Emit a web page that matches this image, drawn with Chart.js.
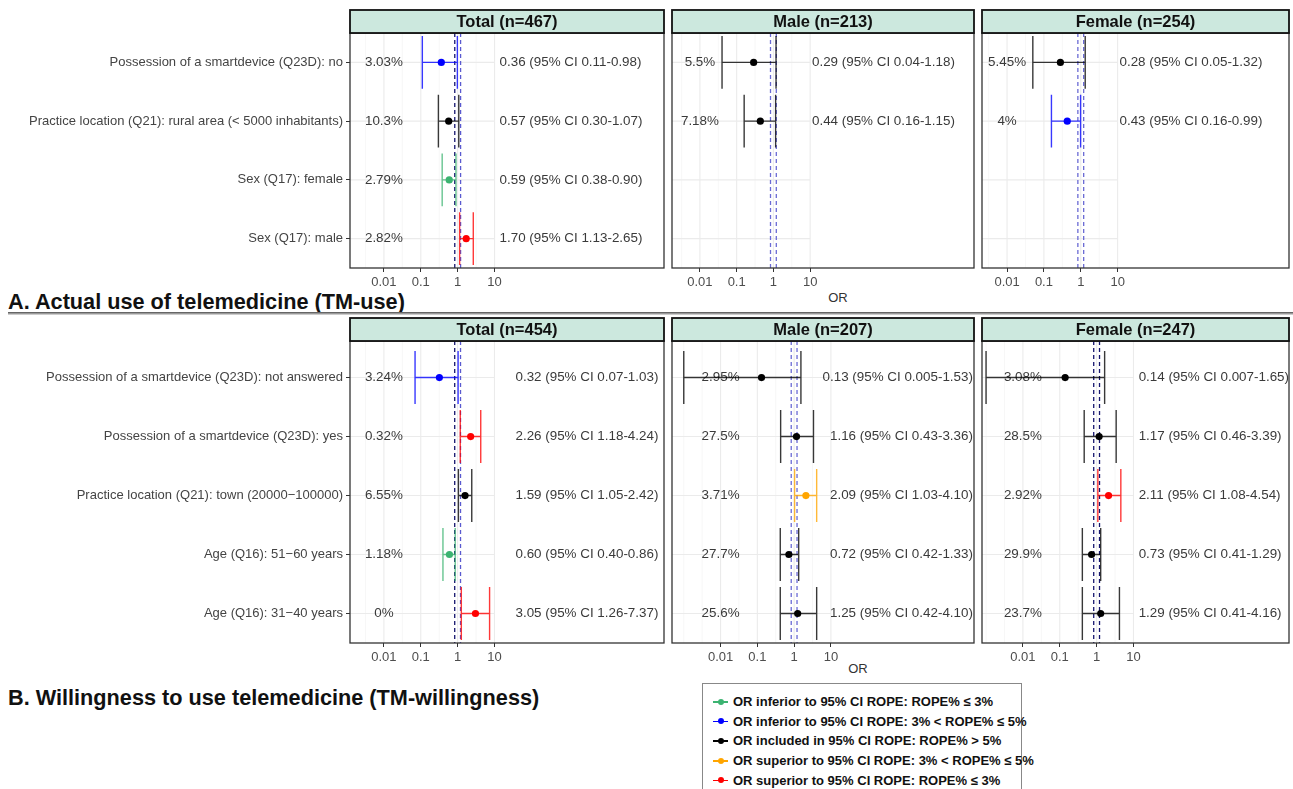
<!DOCTYPE html>
<html>
<head>
<meta charset="utf-8">
<script src="https://cdn.jsdelivr.net/npm/chart.js@4.4.1/dist/chart.umd.min.js"></script>
<style>
  body { margin: 0; background: #fff; width: 1293px; height: 789px; overflow: hidden; position: relative;
         font-family: "Liberation Sans", Arial, sans-serif; }
  canvas { position: absolute; }
  .sect { position: absolute; left: 8px; font-weight: bold; font-size: 21.7px; line-height: 24px; color: #111; white-space: nowrap; }
  .sep { position: absolute; left: 8px; right: 0; top: 312px; height: 1px; background: #999;
         border-top: 1px solid #666; border-bottom: 1px solid #ccc; }
  .orlab { position: absolute; font-size: 13px; color: #333; transform: translate(-50%, -50%); }
  #legend { position: absolute; left: 702px; top: 683px; width: 318px; height: 120px; border: 1px solid #888; background: #fff; }
  .lrow { position: absolute; left: 30px; font-weight: bold; font-size: 13px; line-height: 16px; color: #111; white-space: nowrap; }
  .sym { position: absolute; left: -20px; top: 7px; width: 15px; height: 1.5px; }
  .sym i { position: absolute; left: 4.5px; top: -2.5px; width: 6px; height: 6px; border-radius: 50%; }
</style>
</head>
<body>
<div class="sect" style="top:290px">A. Actual use of telemedicine (TM-use)</div>
<div class="sep"></div>
<div class="sect" style="top:686px">B. Willingness to use telemedicine (TM-willingness)</div>
<div class="orlab" style="left:838px;top:297px">OR</div>
<div class="orlab" style="left:858px;top:668px">OR</div>
<div id="legend"></div>

<script>
Chart.defaults.font.family = '"Liberation Sans", Arial, sans-serif';

// ---- data ----
const tickValues = [0.01, 0.1, 1, 10];
const tickLabels = ["0.01", "0.1", "1", "10"];
const ropeBounds = [0.834, 1.199];   // ROPE limits on the OR scale
const ciFloor = 0.001;               // CI lower ends below 0.01 are drawn at this floor

const classNames = [
  "OR inferior to 95% CI ROPE: ROPE% \u2264 3%",
  "OR inferior to 95% CI ROPE: 3% < ROPE% \u2264 5%",
  "OR included in 95% CI ROPE: ROPE% > 5%",
  "OR superior to 95% CI ROPE: 3% < ROPE% \u2264 5%",
  "OR superior to 95% CI ROPE: ROPE% \u2264 3%"
];
const classColors = ["#3CB371", "#0000FF", "#000000", "#FFA500", "#FF0000"];

// A. TM-use  (panels: Total, Male, Female)
const rowsA = [
  "Possession of a smartdevice (Q23D): no",
  "Practice location (Q21): rural area (< 5000 inhabitants)",
  "Sex (Q17): female",
  "Sex (Q17): male"
];
const titlesA = ["Total (n=467)", "Male (n=213)", "Female (n=254)"];
const orA   = [[0.36, 0.57, 0.59, 1.70], [0.29, 0.44, null, null], [0.28, 0.43, null, null]];
const loA   = [[0.11, 0.30, 0.38, 1.13], [0.04, 0.16, null, null], [0.05, 0.16, null, null]];
const hiA   = [[0.98, 1.07, 0.90, 2.65], [1.18, 1.15, null, null], [1.32, 0.99, null, null]];
const ropeA = [["3.03%", "10.3%", "2.79%", "2.82%"], ["5.5%", "7.18%"], ["5.45%", "4%"]];
const clsA  = [[1, 2, 0, 4], [2, 2], [2, 1]];

// B. TM-willingness
const rowsB = [
  "Possession of a smartdevice (Q23D): not answered",
  "Possession of a smartdevice (Q23D): yes",
  "Practice location (Q21): town (20000\u2212100000)",
  "Age (Q16): 51\u221260 years",
  "Age (Q16): 31\u221240 years"
];
const titlesB = ["Total (n=454)", "Male (n=207)", "Female (n=247)"];
const orB   = [[0.32, 2.26, 1.59, 0.60, 3.05], [0.13, 1.16, 2.09, 0.72, 1.25], [0.14, 1.17, 2.11, 0.73, 1.29]];
const loB   = [[0.07, 1.18, 1.05, 0.40, 1.26], [0.005, 0.43, 1.03, 0.42, 0.42], [0.007, 0.46, 1.08, 0.41, 0.41]];
const hiB   = [[1.03, 4.24, 2.42, 0.86, 7.37], [1.53, 3.36, 4.10, 1.33, 4.10], [1.65, 3.39, 4.54, 1.29, 4.16]];
const ropeB = [["3.24%", "0.32%", "6.55%", "1.18%", "0%"], ["2.95%", "27.5%", "3.71%", "27.7%", "25.6%"],
               ["3.08%", "28.5%", "2.92%", "29.9%", "23.7%"]];
const clsB  = [[1, 4, 2, 0, 4], [2, 2, 3, 2, 2], [2, 2, 4, 2, 2]];

// ---- layout ----
const cols = [
  { cl: 0,   cw: 668, padL: 0, padR: 3 },
  { cl: 668, cw: 310, padL: 3, padR: 3 },
  { cl: 978, cw: 315, padL: 3, padR: 4 }
];
const sectA = { plotTop: 33,  plotBottom: 268, yExtra: 0 };
const sectB = { plotTop: 341, plotBottom: 643, yExtra: 0.12 };
const xRangeA = [[-2.92, 5.595], [-2.76, 5.46], [-2.68, 5.65]];
const xRangeB = [[-2.92, 5.6], [-3.32, 4.89], [-3.11, 5.22]];
const textPosA = [[1.135, "left"], [1.05, "left"], [1.05, "left"]];
const textPosB = [[1.57, "left"], [4.86, "right"], [1.14, "left"]];
const ropeColA = [["#15156e", "#5a5ad0"], ["#6a6ad4", "#6a6ad4"], ["#6a6ad4", "#6a6ad4"]];
const ropeColB = [["#15156e", "#5a5ad0"], ["#6a6ad4", "#6a6ad4"], ["#15156e", "#15156e"]];

const fmt = v => v < 0.01 ? v.toFixed(3) : v.toFixed(2);

function makePanel(sect, c, rows, title, or, lo, hi, rope, cls, xr, textPos, ropeCol) {
  const col = cols[c];
  const top = sect.plotTop - 25;
  const h = sect.plotBottom - sect.plotTop + 25 + 22 + 6;
  const cv = document.createElement("canvas");
  cv.width = col.cw; cv.height = h;
  cv.style.left = col.cl + "px"; cv.style.top = top + "px";
  document.body.appendChild(cv);

  const pts = [], colors = [];
  or.forEach((v, i) => { if (v != null) { pts.push({ x: v, y: i }); colors.push(classColors[cls[i]]); } });

  const forest = {
    id: "forest",
    beforeDatasetsDraw(chart) {
      const ctx = chart.ctx, x = chart.scales.x, y = chart.scales.y, a = chart.chartArea;
      const gridRight = x.getPixelForValue(10);
      ctx.save();
      // minor grid (half decades)
      ctx.strokeStyle = "#f3f3f3"; ctx.lineWidth = 0.7;
      for (let e = Math.ceil(Math.log10(x.min) * 2) / 2; e <= 1; e += 0.5) {
        if (Number.isInteger(e) && e >= -2) continue;
        const px = x.getPixelForValue(Math.pow(10, e));
        ctx.beginPath(); ctx.moveTo(px, a.top); ctx.lineTo(px, a.bottom); ctx.stroke();
      }
      // major grid
      ctx.strokeStyle = "#ebebeb"; ctx.lineWidth = 1.1;
      tickValues.forEach(v => {
        const px = x.getPixelForValue(v);
        ctx.beginPath(); ctx.moveTo(px, a.top); ctx.lineTo(px, a.bottom); ctx.stroke();
      });
      rows.forEach((r, i) => {
        const py = y.getPixelForValue(i);
        ctx.beginPath(); ctx.moveTo(a.left, py); ctx.lineTo(gridRight, py); ctx.stroke();
      });
      // texts
      ctx.font = '13.4px "Liberation Sans", Arial, sans-serif';
      ctx.fillStyle = "#3a3a3a"; ctx.textBaseline = "middle";
      const tx = x.getPixelForValue(Math.pow(10, textPos[0]));
      or.forEach((v, i) => {
        if (v == null) return;
        const py = y.getPixelForValue(i);
        ctx.textAlign = "center";
        ctx.fillText(rope[i], x.getPixelForValue(0.01), py);
        ctx.textAlign = textPos[1];
        ctx.fillText(fmt(v) + " (95% CI " + fmt(lo[i]) + "-" + fmt(hi[i]) + ")", tx, py);
      });
      // ROPE lines
      ctx.setLineDash([4, 3]); ctx.lineWidth = 1.3;
      ropeBounds.forEach((b, k) => {
        const px = x.getPixelForValue(b);
        ctx.strokeStyle = ropeCol[k];
        ctx.beginPath(); ctx.moveTo(px, a.top); ctx.lineTo(px, a.bottom); ctx.stroke();
      });
      ctx.setLineDash([]);
      // CI whiskers
      const step = Math.abs(y.getPixelForValue(1) - y.getPixelForValue(0));
      ctx.globalAlpha = 0.78; ctx.lineWidth = 1.4;
      or.forEach((v, i) => {
        if (v == null) return;
        const py = y.getPixelForValue(i), hh = step * 0.45;
        const xl = x.getPixelForValue(lo[i] < 0.01 ? ciFloor : lo[i]), xh = x.getPixelForValue(hi[i]);
        ctx.strokeStyle = classColors[cls[i]];
        ctx.beginPath();
        ctx.moveTo(xl, py); ctx.lineTo(xh, py);
        ctx.moveTo(xl, py - hh); ctx.lineTo(xl, py + hh);
        ctx.moveTo(xh, py - hh); ctx.lineTo(xh, py + hh);
        ctx.stroke();
      });
      ctx.restore();
    },
    afterDraw(chart) {
      const ctx = chart.ctx, a = chart.chartArea;
      ctx.save();
      ctx.strokeStyle = "#333"; ctx.lineWidth = 1.3;
      ctx.strokeRect(a.left, a.top, a.right - a.left, a.bottom - a.top);
      ctx.fillStyle = "#cce8de";
      ctx.fillRect(a.left, a.top - 23, a.right - a.left, 23);
      ctx.strokeStyle = "#111"; ctx.lineWidth = 1.8;
      ctx.strokeRect(a.left, a.top - 23, a.right - a.left, 23);
      ctx.fillStyle = "#111";
      ctx.font = 'bold 16.5px "Liberation Sans", Arial, sans-serif';
      ctx.textAlign = "center"; ctx.textBaseline = "middle";
      ctx.fillText(title, (a.left + a.right) / 2, a.top - 11);
      ctx.restore();
    }
  };

  new Chart(cv, {
    type: "scatter",
    data: {
      datasets: [{
        data: pts,
        pointRadius: 3.6,
        pointBorderWidth: 0,
        pointBackgroundColor: colors,
        pointBorderColor: colors
      }]
    },
    options: {
      responsive: false,
      animation: false,
      events: [],
      layout: { padding: { top: 25, bottom: 6, left: col.padL, right: col.padR } },
      plugins: { legend: { display: false }, tooltip: { enabled: false } },
      scales: {
        x: {
          type: "logarithmic",
          bounds: "data",
          min: Math.pow(10, xr[0]),
          max: Math.pow(10, xr[1]),
          afterBuildTicks: s => { s.ticks = tickValues.map(v => ({ value: v })); },
          afterFit: s => { s.height = 22; },
          ticks: {
            autoSkip: false, maxRotation: 0, padding: 3, color: "#4d4d4d", font: { size: 13 },
            callback: (v, i) => tickLabels[i]
          },
          grid: { drawOnChartArea: false, drawTicks: true, tickLength: 4, color: "#333" },
          border: { display: false }
        },
        y: {
          type: "linear",
          reverse: true,
          bounds: "data",
          display: c === 0,
          min: -0.5 - sect.yExtra,
          max: rows.length - 0.5,
          afterBuildTicks: s => { s.ticks = rows.map((r, i) => ({ value: i })); },
          afterFit: s => { s.width = c === 0 ? 350 : 0; },
          ticks: {
            autoSkip: false, padding: 3, color: "#444", font: { size: 13 },
            callback: v => rows[Math.round(v)]
          },
          grid: { drawOnChartArea: false, drawTicks: true, tickLength: 4, color: "#333" },
          border: { display: false }
        }
      }
    },
    plugins: [forest]
  });
}

for (let c = 0; c < 3; c++) {
  makePanel(sectA, c, rowsA, titlesA[c], orA[c], loA[c], hiA[c], ropeA[c], clsA[c], xRangeA[c], textPosA[c], ropeColA[c]);
  makePanel(sectB, c, rowsB, titlesB[c], orB[c], loB[c], hiB[c], ropeB[c], clsB[c], xRangeB[c], textPosB[c], ropeColB[c]);
}

// legend
const lg = document.getElementById("legend");
classNames.forEach((name, i) => {
  const row = document.createElement("div");
  row.className = "lrow";
  row.style.top = (10 + i * 19.7) + "px";
  row.innerHTML = '<span class="sym" style="background:' + classColors[i] + '"><i style="background:' +
    classColors[i] + '"></i></span>' + name.replace(/</g, "&lt;").replace(/>/g, "&gt;");
  lg.appendChild(row);
});
</script>
</body>
</html>
